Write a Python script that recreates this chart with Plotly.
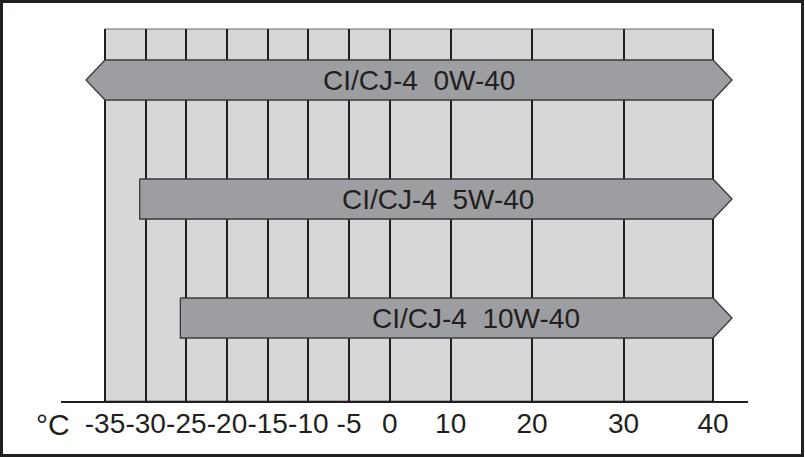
import numpy as np
import plotly.graph_objects as go

# ---------------- data ----------------
temp_ticks = [-35, -30, -25, -20, -15, -10, -5, 0, 10, 20, 30, 40]
tick_labels = ["-35", "-30", "-25", "-20", "-15", "-10", "-5", "0", "10", "20", "30", "40"]
grades = ["CI/CJ-4\u00a0\u00a00W-40", "CI/CJ-4\u00a0\u00a05W-40", "CI/CJ-4\u00a0\u00a010W-40"]
temp_low = [-35, -30, -25]
temp_high = [40, 40, 40]
open_low = [True, False, False]   # arrow on the cold end
open_high = [True, True, True]    # arrow on the hot end

# ---------------- scale / style ----------------
# the chart uses a non-uniform temperature scale: width of each interval
seg_widths = [1, 1, 1, 1, 1, 1, 1, 1.5, 2.0, 2.25, 2.2]
scale_pos = np.concatenate([[0], np.cumsum(seg_widths)])


def tx(t):
    return np.interp(t, temp_ticks, scale_pos)


W, H = 805, 457
ML, MR, MT, MB = 61, 57, 29, 56
pw, ph = W - ML - MR, H - MT - MB
px_per_unit = 40.67
x_range = [-(105 - ML) / px_per_unit, (W - MR - 105) / px_per_unit]

rows = [3, 2, 1]
y_range = [1 - 83 / 119, 3 + 51 / 119]
half_h = 20 / 119
arrow = 19 / px_per_unit
flat_pad = 6 / px_per_unit
label_shift = [0.25, 0.29, 0.71]

INK = "#231f20"
COL_BG = "#d6d7d9"
COL_BAR = "#9d9ea1"
FONT = "Liberation Sans, Arial, sans-serif"

fig = go.Figure()

for i, name in enumerate(grades):
    x0 = float(tx(temp_low[i]))
    x1 = float(tx(temp_high[i]))
    if not open_low[i]:
        x0 -= flat_pad
    yc = rows[i]
    yt, yb = yc + half_h, yc - half_h
    xs = [x0, x1]
    ys = [yt, yt]
    if open_high[i]:
        xs += [x1 + arrow]
        ys += [yc]
    xs += [x1, x0]
    ys += [yb, yb]
    if open_low[i]:
        xs += [x0 - arrow]
        ys += [yc]
    xs += [x0]
    ys += [yt]
    fig.add_trace(go.Scatter(
        x=xs, y=ys, mode="lines", fill="toself", fillcolor=COL_BAR,
        line=dict(color="#3a3a3a", width=1.3), hoverinfo="skip", showlegend=False,
    ))
    fig.add_annotation(
        x=(x0 + x1) / 2 + label_shift[i], y=yc, xref="x", yref="y",
        text=name, showarrow=False,
        font=dict(family=FONT, size=28, color=INK),
    )

# grey background band
fig.add_shape(type="rect", xref="x", yref="paper",
              x0=float(tx(temp_ticks[0])), x1=float(tx(temp_ticks[-1])), y0=0, y1=1,
              fillcolor=COL_BG, line=dict(color="#6a6a6a", width=1), layer="below")


def px_x(p):
    return (p - ML) / pw


def px_y(p):
    return (H - MB - p) / ph


# outer frame
fig.add_shape(type="rect", xref="paper", yref="paper",
              x0=px_x(1.5), x1=px_x(802.5), y0=px_y(455.5), y1=px_y(1.5),
              line=dict(color=INK, width=3), fillcolor="rgba(0,0,0,0)", layer="above")

fig.add_annotation(x=px_x(53), y=px_y(424), xref="paper", yref="paper",
                   xanchor="center", yanchor="middle",
                   text="°C", showarrow=False,
                   font=dict(family=FONT, size=30, color=INK))

fig.update_layout(
    width=W, height=H,
    margin=dict(l=ML, r=MR, t=MT, b=MB, autoexpand=False),
    paper_bgcolor="white", plot_bgcolor="white",
    xaxis=dict(range=x_range, tickvals=[float(v) for v in tx(temp_ticks)], ticktext=tick_labels,
               tickangle=0, automargin=False, ticklabelstandoff=-4,
               showgrid=True, gridcolor=INK, gridwidth=2, zeroline=False,
               showline=True, linecolor=INK, linewidth=2, ticks="",
               tickfont=dict(family=FONT, size=28, color=INK),
               fixedrange=True),
    yaxis=dict(range=y_range, showgrid=False, zeroline=False, showline=False,
               showticklabels=False, fixedrange=True, automargin=False),
)

fig.write_html("out.html")
